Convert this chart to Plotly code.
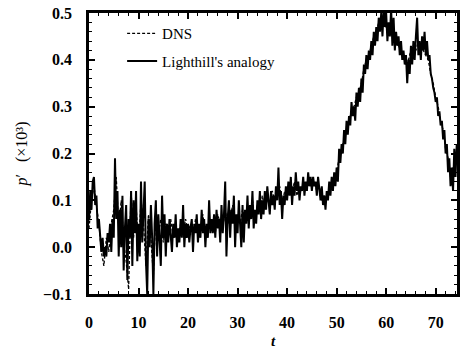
import numpy as np
import plotly.graph_objects as go

# Lighthill's analogy: sampled every 0.25 from t = 0
lighthill = [
    0.06, 0.12, 0.08, 0.14, 0.15, 0.09, 0.11, 0.04, 0.06, 0.01, -0.01, 0.02, -0.02, 0.00, -0.02, 0.03, 0.01, 0.05, -0.01, 0.06,
    0.02, 0.19, 0.06, 0.12, -0.02, 0.08, 0.00, 0.11, -0.05, 0.04, 0.09, -0.07, 0.06, 0.02, 0.12, -0.04, 0.10, 0.03, 0.12, -0.03,
    0.05, -0.02, 0.14, 0.01, 0.08, 0.14, -0.03, -0.10, 0.06, 0.00, 0.09, 0.02, -0.10, 0.05, 0.10, -0.02, 0.07, 0.00, -0.04, 0.11,
    0.02, 0.07, -0.02, 0.05, 0.01, 0.06, 0.03, -0.01, 0.05, 0.02, 0.07, 0.00, 0.04, 0.01, 0.06, 0.02, 0.09, 0.00, 0.05, 0.02,
    0.05, 0.01, 0.04, 0.06, -0.01, 0.05, 0.03, 0.07, 0.01, 0.05, 0.02, 0.08, 0.03, 0.06, 0.00, 0.05, 0.02, 0.10, 0.03, 0.06,
    0.03, 0.07, 0.02, 0.08, 0.04, 0.06, 0.01, 0.09, 0.03, 0.07, 0.14, -0.02, 0.06, 0.10, 0.02, 0.08, 0.05, 0.11, 0.00, 0.07,
    0.03, 0.10, 0.05, 0.00, 0.09, 0.01, 0.08, 0.05, 0.11, 0.04, 0.09, 0.06, 0.12, 0.04, 0.08, 0.05, 0.10, 0.07, 0.12, 0.06,
    0.10, 0.07, 0.12, 0.08, 0.13, 0.09, 0.07, 0.12, 0.09, 0.11, 0.08, 0.13, 0.10, 0.17, 0.09, 0.12, 0.06, 0.11, 0.09, 0.13,
    0.10, 0.14, 0.11, 0.15, 0.09, 0.13, 0.11, 0.16, 0.12, 0.14, 0.10, 0.13, 0.12, 0.15, 0.11, 0.14, 0.12, 0.16, 0.13, 0.15,
    0.12, 0.15, 0.13, 0.14, 0.11, 0.15, 0.12, 0.10, 0.13, 0.09, 0.11, 0.08, 0.12, 0.10, 0.14, 0.11, 0.15, 0.12, 0.16, 0.13,
    0.17, 0.14, 0.21, 0.18, 0.22, 0.20, 0.25, 0.22, 0.27, 0.24, 0.28, 0.26, 0.31, 0.28, 0.30, 0.27, 0.33, 0.30, 0.34, 0.31,
    0.36, 0.33, 0.39, 0.37, 0.41, 0.38, 0.42, 0.40, 0.44, 0.41, 0.46, 0.43, 0.47, 0.44, 0.49, 0.46, 0.50, 0.45, 0.51, 0.47,
    0.50, 0.44, 0.48, 0.45, 0.51, 0.43, 0.49, 0.42, 0.46, 0.43, 0.45, 0.41, 0.44, 0.40, 0.42, 0.39, 0.41, 0.35, 0.40, 0.37,
    0.43, 0.39, 0.44, 0.40, 0.45, 0.49, 0.41, 0.44, 0.40, 0.45, 0.42, 0.46, 0.41, 0.44, 0.40, 0.41, 0.37, 0.36, 0.34, 0.33,
    0.31, 0.32, 0.28, 0.29, 0.26, 0.27, 0.23, 0.25, 0.20, 0.22, 0.16, 0.19, 0.13, 0.17, 0.12, 0.21, 0.15, 0.22, 0.18,
]
LH_STEP = 0.25

# DNS: sampled every 0.5 from t = 0
dns = [
    0.04, 0.10, 0.13, 0.09, 0.05, -0.01, -0.04, 0.02, -0.01, 0.05,
    0.08, 0.15, 0.04, 0.10, 0.01, -0.03, -0.09, 0.12, 0.02, 0.09,
    0.00, 0.10, 0.05, -0.04, 0.07, 0.02, -0.06, 0.08, 0.03, 0.06,
    0.01, 0.05, 0.03, 0.06, 0.02, 0.04, 0.01, 0.05, 0.03, 0.06,
    0.03, 0.05, 0.02, 0.06, 0.04, 0.03, 0.07, 0.02, 0.05, 0.04,
    0.06, 0.03, 0.07, 0.05, 0.04, 0.08, 0.05, 0.06, 0.09, 0.04,
    0.07, 0.05, 0.08, 0.06, 0.09, 0.07, 0.10, 0.06, 0.09, 0.08,
    0.11, 0.08, 0.10, 0.09, 0.12, 0.10, 0.11, 0.13, 0.09, 0.12,
    0.11, 0.13, 0.12, 0.14, 0.11, 0.13, 0.12, 0.14, 0.13, 0.15,
    0.13, 0.14, 0.12, 0.13, 0.10, 0.11, 0.10, 0.12, 0.13, 0.15,
    0.16, 0.19, 0.21, 0.23, 0.25, 0.27, 0.29, 0.30, 0.32, 0.33,
    0.35, 0.38, 0.40, 0.41, 0.43, 0.45, 0.46, 0.48, 0.49, 0.48,
    0.47, 0.46, 0.48, 0.45, 0.44, 0.43, 0.42, 0.41, 0.39, 0.40,
    0.42, 0.43, 0.42, 0.44, 0.43, 0.42, 0.41, 0.40, 0.37, 0.35,
    0.32, 0.30, 0.27, 0.25, 0.21, 0.19, 0.15, 0.17, 0.16,
]
DNS_STEP = 0.5

x_ticks = [0, 10, 20, 30, 40, 50, 60, 70]
y_ticks = [-0.1, 0.0, 0.1, 0.2, 0.3, 0.4, 0.5]

t_lh = np.arange(len(lighthill)) * LH_STEP
t_dns = np.arange(len(dns)) * DNS_STEP

FONT = "Liberation Serif"

fig = go.Figure()
fig.add_trace(go.Scatter(
    x=t_dns, y=dns, mode="lines", name="DNS", legendgroup="a",
    line=dict(color="black", width=1.3, dash="3px,2px"),
))
fig.add_trace(go.Scatter(
    x=t_lh, y=lighthill, mode="lines", name="Lighthill's analogy", legendgroup="b",
    line=dict(color="black", width=2.0),
))

axis_common = dict(
    showline=True, linecolor="black", linewidth=2.5, mirror="allticks",
    ticks="inside", ticklen=6, tickwidth=1.5, tickcolor="black",
    showgrid=False, zeroline=False,
    tickfont=dict(family=FONT, size=16, color="black", weight="bold"),
)

fig.update_layout(
    width=462, height=351,
    margin=dict(l=89, r=2, t=13, b=57),
    paper_bgcolor="white", plot_bgcolor="white",
    showlegend=True,
    legend=dict(
        x=0.09, y=0.985, xanchor="left", yanchor="top",
        bgcolor="rgba(0,0,0,0)", tracegroupgap=5,
        font=dict(family=FONT, size=15, color="black"),
    ),
    xaxis=dict(
        range=[0, 74.3], tickvals=x_ticks, ticklabelstandoff=12,
        minor=dict(ticks="inside", ticklen=3, dtick=2, tickcolor="black", tickwidth=1),
        title=dict(text="<i>t</i>", font=dict(family=FONT, size=15, color="black", weight="bold"), standoff=6),
        **axis_common,
    ),
    yaxis=dict(
        range=[-0.1, 0.5], tickvals=y_ticks, tickformat=".1f", ticklabelstandoff=11,
        minor=dict(ticks="inside", ticklen=3, dtick=0.02, tickcolor="black", tickwidth=1),
        title=dict(text="<i>p</i>′   (×10³)", font=dict(family=FONT, size=16, color="black"), standoff=12),
        **axis_common,
    ),
)

fig.write_html("out.html")
